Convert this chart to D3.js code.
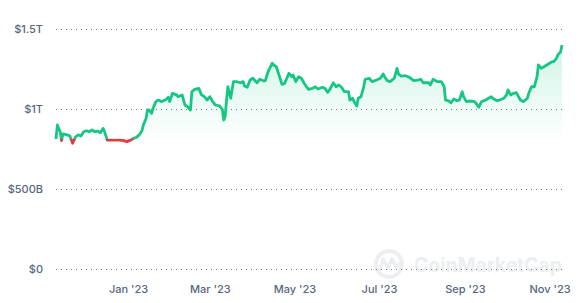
<!DOCTYPE html>
<html>
<head>
<meta charset="utf-8">
<script src="https://cdn.jsdelivr.net/npm/d3@7"></script>
<style>
  body { margin: 0; background: #fff; }
  text { font-family: Inter, "Noto Sans", sans-serif; }
</style>
</head>
<body>
<div id="chart"></div>
<script>
// total market cap, billions USD
let dates = ["2022-11-10","2022-11-11","2022-11-13","2022-11-14","2022-11-15","2022-11-18","2022-11-20","2022-11-22","2022-11-24","2022-11-26","2022-11-28","2022-11-30",
  "2022-12-02","2022-12-04","2022-12-06","2022-12-08","2022-12-10","2022-12-12","2022-12-14","2022-12-15","2022-12-17","2022-12-19","2022-12-23","2022-12-26","2022-12-29","2022-12-31",
  "2023-01-02","2023-01-05","2023-01-07","2023-01-09","2023-01-11","2023-01-12","2023-01-14","2023-01-15","2023-01-16","2023-01-18","2023-01-19","2023-01-21","2023-01-23","2023-01-25","2023-01-28","2023-01-30","2023-01-31",
  "2023-02-02","2023-02-05","2023-02-06","2023-02-09","2023-02-11","2023-02-13","2023-02-15","2023-02-16","2023-02-18","2023-02-21","2023-02-23","2023-02-25","2023-02-27",
  "2023-03-01","2023-03-03","2023-03-05","2023-03-08","2023-03-10","2023-03-11","2023-03-12","2023-03-13","2023-03-14","2023-03-16","2023-03-18","2023-03-20","2023-03-23","2023-03-25","2023-03-26","2023-03-28","2023-03-30",
  "2023-04-01","2023-04-04","2023-04-06","2023-04-09","2023-04-10","2023-04-12","2023-04-15","2023-04-16","2023-04-18","2023-04-21","2023-04-22","2023-04-24","2023-04-27","2023-04-29","2023-04-30",
  "2023-05-02","2023-05-04","2023-05-06","2023-05-08","2023-05-11","2023-05-14","2023-05-16","2023-05-18","2023-05-21","2023-05-23","2023-05-25","2023-05-27","2023-05-29","2023-05-31",
  "2023-06-02","2023-06-04","2023-06-06","2023-06-09","2023-06-10","2023-06-12","2023-06-13","2023-06-15","2023-06-16","2023-06-18","2023-06-20","2023-06-21","2023-06-24","2023-06-26","2023-06-28",
  "2023-07-02","2023-07-04","2023-07-05","2023-07-07","2023-07-09","2023-07-12","2023-07-14","2023-07-15","2023-07-17","2023-07-20","2023-07-23","2023-07-26","2023-07-29","2023-07-31",
  "2023-08-02","2023-08-06","2023-08-07","2023-08-09","2023-08-12","2023-08-15","2023-08-17","2023-08-18","2023-08-20","2023-08-22","2023-08-24","2023-08-26","2023-08-28","2023-08-30","2023-08-31",
  "2023-09-02","2023-09-05","2023-09-08","2023-09-09","2023-09-11","2023-09-13","2023-09-16","2023-09-18","2023-09-20","2023-09-21","2023-09-24","2023-09-26","2023-09-29",
  "2023-10-01","2023-10-02","2023-10-04","2023-10-06","2023-10-08","2023-10-09","2023-10-11","2023-10-13","2023-10-16","2023-10-17","2023-10-19","2023-10-21","2023-10-23","2023-10-24","2023-10-26","2023-10-28","2023-10-30",
  "2023-11-01","2023-11-03","2023-11-04","2023-11-06","2023-11-07","2023-11-09","2023-11-10"]

let values = [812,900,858,803,844,838,831,786,825,838,831,858,
  864,858,869,858,862,852,879,858,806,806,806,806,802,796,
  802,817,823,838,864,900,942,994,994,973,1004,1046,1056,1046,1056,1073,1046,
  1098,1088,1077,1088,1025,1014,994,1108,1123,1129,1088,1077,1056,
  1077,1046,1025,1019,998,931,952,1056,1139,1067,1171,1171,1164,1171,1144,1136,1181,
  1192,1164,1186,1175,1177,1233,1286,1275,1264,1181,1154,1161,1223,1202,1213,
  1171,1202,1192,1161,1123,1129,1139,1125,1136,1129,1104,1129,1164,1139,
  1150,1136,1108,1108,1056,1067,1046,1019,1067,1077,1139,1186,1192,1171,1177,
  1192,1219,1202,1177,1171,1192,1254,1219,1206,1208,1198,1177,1181,1186,
  1164,1164,1150,1186,1171,1171,1139,1056,1052,1039,1063,1052,1056,1108,1077,
  1046,1050,1046,1036,1011,1046,1056,1067,1077,1067,1052,1056,1067,
  1088,1119,1088,1098,1102,1088,1056,1046,1067,1098,1139,1139,1202,1275,1254,1264,1275,
  1286,1296,1296,1317,1338,1358,1400]

let yTicks = [0, 500, 1000, 1500]
let yTickLabels = ["$0", "$500B", "$1T", "$1.5T"]
let xTicks = ["2023-01-01","2023-03-01","2023-05-01","2023-07-01","2023-09-01","2023-11-01"]
let xTickLabels = ["Jan '23", "Mar '23", "May '23", "Jul '23", "Sep '23", "Nov '23"]

var width = 588,
    height = 303,
    plotLeft = 56,
    plotRight = 562,
    plotTop = 29,
    plotBottom = 269

var green = "#16c784",
    red = "#ea3943",
    grey = "#58667e"

var parse = d3.timeParse("%Y-%m-%d")
var data = dates.map((d, i) => ({date: parse(d), value: values[i]}))

const svg = d3.select("#chart").append("svg")
    .attr("width", width)
    .attr("height", height)

const xScale = d3.scaleTime()
    .domain([parse("2022-11-10"), parse("2023-11-10")])
    .range([plotLeft, plotRight])

const yScale = d3.scaleLinear()
    .domain([0, 1500])
    .range([plotBottom, plotTop])

// watermark
var wm = svg.append("g").attr("fill", "none")
wm.append("circle")
    .attr("cx", 389).attr("cy", 264).attr("r", 13)
    .attr("stroke", "#eceef2").attr("stroke-width", 4)
wm.append("path")
    .attr("d", "M380,270 L383,259 L388,268 L392,259 L396,267 L399,264")
    .attr("stroke", "#eceef2").attr("stroke-width", 3.5)
    .attr("stroke-linejoin", "round").attr("stroke-linecap", "round")
wm.append("text")
    .attr("x", 414).attr("y", 272)
    .attr("fill", "#eceef2")
    .attr("font-size", 20)
    .attr("font-weight", 700)
    .attr("textLength", 148)
    .attr("lengthAdjust", "spacingAndGlyphs")
    .text("CoinMarketCap")

// y axis + gridlines
const yAxis = d3.axisLeft(yScale)
    .tickValues(yTicks)
    .tickFormat((d, i) => yTickLabels[i])
    .tickSize(-(plotRight - plotLeft))
    .tickPadding(13)

const gy = svg.append("g")
    .attr("transform", "translate(" + plotLeft + ",0)")
    .call(yAxis)
gy.select(".domain").remove()
gy.selectAll(".tick line")
    .attr("stroke", "#58667e")
    .attr("stroke-opacity", 0.9)
    .attr("stroke-dasharray", "1,4")
gy.selectAll(".tick text")
    .attr("fill", grey)
    .attr("font-size", 11)
    .attr("font-weight", 500)

// x axis
const xAxis = d3.axisBottom(xScale)
    .tickValues(xTicks.map(parse))
    .tickFormat((d, i) => xTickLabels[i])
    .tickSize(0)
    .tickPadding(16)

const gx = svg.append("g")
    .attr("transform", "translate(0," + plotBottom + ")")
    .call(xAxis)
gx.select(".domain").remove()
gx.selectAll(".tick text")
    .attr("fill", grey)
    .attr("font-size", 11)
    .attr("font-weight", 500)

// split at first value
var baseY = yScale(values[0])

var defs = svg.append("defs")
defs.append("clipPath").attr("id", "above")
    .append("rect").attr("x", 0).attr("y", 0).attr("width", width).attr("height", baseY)
defs.append("clipPath").attr("id", "below")
    .append("rect").attr("x", 0).attr("y", baseY).attr("width", width).attr("height", height - baseY)

var gUp = defs.append("linearGradient").attr("id", "gUp")
    .attr("gradientUnits", "userSpaceOnUse")
    .attr("x1", 0).attr("x2", 0).attr("y1", yScale(1420)).attr("y2", baseY)
gUp.append("stop").attr("offset", 0).attr("stop-color", green).attr("stop-opacity", 0.2)
gUp.append("stop").attr("offset", 1).attr("stop-color", green).attr("stop-opacity", 0.01)

var gDown = defs.append("linearGradient").attr("id", "gDown")
    .attr("gradientUnits", "userSpaceOnUse")
    .attr("x1", 0).attr("x2", 0).attr("y1", baseY).attr("y2", yScale(780))
gDown.append("stop").attr("offset", 0).attr("stop-color", red).attr("stop-opacity", 0.01)
gDown.append("stop").attr("offset", 1).attr("stop-color", red).attr("stop-opacity", 0.15)

const area = d3.area()
    .x(d => xScale(d.date))
    .y0(baseY)
    .y1(d => yScale(d.value))

const line = d3.line()
    .x(d => xScale(d.date))
    .y(d => yScale(d.value))

svg.append("path").datum(data)
    .attr("d", area)
    .attr("fill", "url(#gUp)")
    .attr("clip-path", "url(#above)")
svg.append("path").datum(data)
    .attr("d", area)
    .attr("fill", "url(#gDown)")
    .attr("clip-path", "url(#below)")

svg.append("path").datum(data)
    .attr("d", line)
    .attr("fill", "none")
    .attr("stroke", green)
    .attr("stroke-width", 2.8)
    .attr("stroke-linejoin", "round")
    .attr("clip-path", "url(#above)")
svg.append("path").datum(data)
    .attr("d", line)
    .attr("fill", "none")
    .attr("stroke", red)
    .attr("stroke-width", 2.8)
    .attr("stroke-linejoin", "round")
    .attr("clip-path", "url(#below)")
</script>
</body>
</html>
